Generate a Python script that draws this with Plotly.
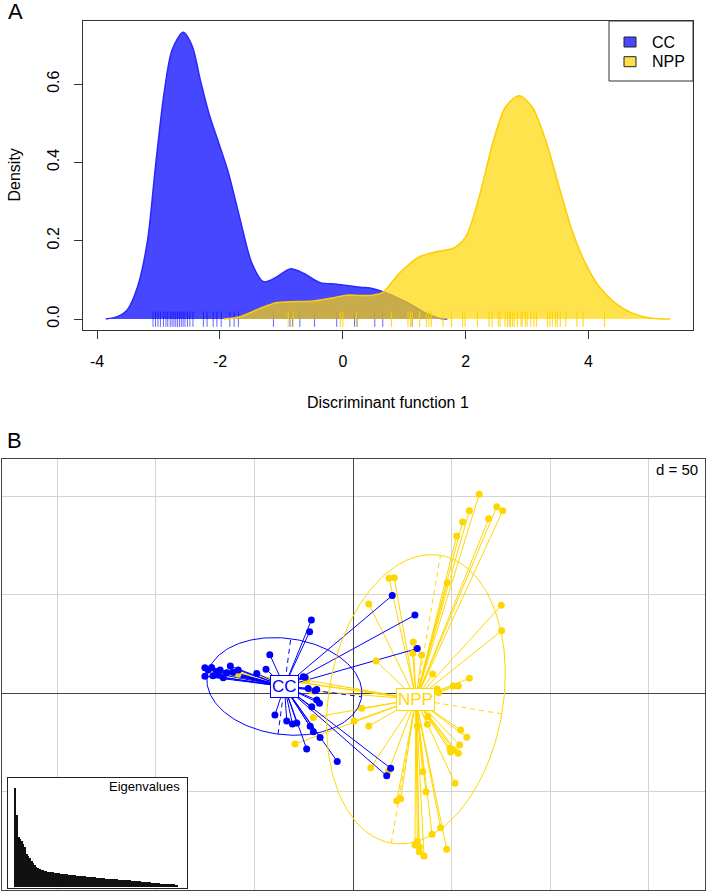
import numpy as np
import plotly.graph_objects as go

FONT = "Liberation Sans, Arial, Helvetica, sans-serif"

# ---------------- Panel A data ----------------
cc_dens_x = [-3.86, -3.67, -3.51, -3.34, -3.18, -3.05, -2.91, -2.78, -2.60, -2.45, -2.32, -2.18,
             -2.02, -1.86, -1.67, -1.48, -1.29, -1.07, -0.86, -0.64, -0.37, -0.10, 0.28, 0.44,
             0.65, 1.03, 1.36, 1.57, 1.70]
cc_dens_y = [0.0, 0.006, 0.023, 0.083, 0.20, 0.39, 0.577, 0.687, 0.732, 0.696, 0.61, 0.525,
             0.449, 0.372, 0.253, 0.142, 0.095, 0.108, 0.128, 0.117, 0.093, 0.089, 0.081, 0.079,
             0.070, 0.044, 0.014, 0.002, 0.0]
npp_dens_x = [-1.94, -1.67, -1.35, -1.07, -0.86, -0.48, -0.16, 0.06, 0.28, 0.49, 0.65, 0.92,
              1.25, 1.52, 1.79, 2.00, 2.22, 2.44, 2.65, 2.87, 3.08, 3.30, 3.52, 3.73, 3.95,
              4.17, 4.44, 4.71, 5.03, 5.33]
npp_dens_y = [0.0, 0.006, 0.027, 0.042, 0.044, 0.046, 0.054, 0.061, 0.060, 0.061, 0.068, 0.117,
              0.159, 0.172, 0.180, 0.210, 0.312, 0.449, 0.542, 0.570, 0.542, 0.457, 0.338, 0.227,
              0.142, 0.083, 0.040, 0.015, 0.002, 0.0]
cc_rug = [-3.09, -3.05, -3.01, -2.97, -2.92, -2.88, -2.85, -2.81, -2.78, -2.75, -2.72, -2.69,
          -2.66, -2.63, -2.60, -2.57, -2.53, -2.49, -2.44, -2.27, -2.21, -2.11, -2.05, -1.98,
          -1.84, -1.77, -1.70, -1.13, -0.86, -0.82, -0.70, -0.46, -0.10, 0.19, 0.23, 0.52,
          0.65, 1.13]
npp_rug = [-0.89, -0.81, -0.04, 0.00, 0.22, 0.79, 1.06, 1.10, 1.13, 1.25, 1.36, 1.40, 1.44,
           1.63, 1.77, 1.95, 1.99, 2.19, 2.38, 2.43, 2.53, 2.56, 2.64, 2.68, 2.71, 2.73, 2.76,
           2.79, 2.84, 2.90, 2.92, 2.97, 3.00, 3.06, 3.11, 3.15, 3.33, 3.37, 3.41, 3.46, 3.49,
           3.54, 3.63, 3.81, 3.91, 4.26]
a_xticks = [-4, -2, 0, 2, 4]
a_xticklabels = ["-4", "-2", "0", "2", "4"]
a_yticks = [0.0, 0.2, 0.4, 0.6]
a_yticklabels = ["0.0", "0.2", "0.4", "0.6"]
groups = ["CC", "NPP"]

# ---------------- Panel B data ----------------
cc_x = [-75.1, -75.1, -71.7, -71.0, -69.1, -67.4, -65.8, -64.0, -62.2, -58.2, -48.8, -44.1,
        -42.2, -21.1, -22.0, -18.4, -18.4, -20.9, -39.6, -33.6, -30.7, -21.7, -20.1, -16.7,
        -23.5, -8.0, 17.1, 19.1, 19.9, 31.4, 32.6, -24.3, -25.2, -19.3, -73.5, -68.5, -60.9,
        -22.7, -28.5, -17.0]
cc_y = [13.0, 8.6, 13.1, 8.9, 11.0, 11.8, 7.9, 10.4, 13.8, 11.8, 10.1, 12.2,
        19.6, 37.2, 31.2, 2.0, -3.4, -6.8, -11.0, -14.0, -15.6, -16.7, -19.5, -22.4,
        -28.2, -34.5, -41.8, -38.0, 49.6, 39.7, 22.7, 8.1, 8.4, 1.3, 11.8, 9.8, 10.8,
        2.5, -15.0, -5.0]
npp_x = [64.0, 72.9, 75.9, 59.0, 55.6, 68.8, 52.6, 18.3, 20.9, 8.0, 47.8, 75.2, 75.4, 30.6,
         30.3, 34.8, 11.7, 40.4, 59.0, 53.4, 50.9, 43.4, 42.4, 4.4, 0.5, 8.0, 38.0, 37.7,
         32.6, 54.6, 57.7, 54.1, 49.2, 51.2, 53.4, 49.5, 51.7, 9.0, 17.9, 35.3, 37.0, 24.1,
         22.2, 44.4, 40.1, 32.6, 33.6, 33.6, 36.0, 31.4, 47.5, -20.1, -29.4, -20.8, -61.4,
         -58.3, -23.5, 42.7]
npp_y = [100.9, 94.6, 92.6, 92.6, 86.9, 88.5, 79.8, 58.3, 58.6, 45.3, 56.1, 44.6, 31.7, 26.0,
         20.3, 19.4, 16.4, 9.8, 7.6, 3.7, 3.7, 0.3, 2.0, -7.6, -14.0, -16.6, -11.7, -15.7,
         -16.6, -18.6, -22.3, -26.2, -27.9, -28.8, -30.4, -29.8, -45.6, -37.7, -39.6, -39.8,
         -49.9, -53.5, -54.5, -68.1, -71.5, -75.3, -77.8, -80.3, -82.5, -76.9, -79.1, -12.2,
         -25.7, 1.2, 10.8, 9.8, 6.7, 2.2]
centers_x = [-34.8, 31.9]
centers_y = [3.5, -3.0]
ell_a = [39.5, 74.0]      # semi-major
ell_b = [24.4, 44.2]      # semi-minor
ell_angle = [-7.6, 80.3]  # degrees
eigenvalues = [297, 215, 150, 145, 138, 130, 120, 100, 92, 86,
               78, 71, 66, 61, 57, 54, 52, 50, 49, 47,
               46, 45, 44.5, 44, 43, 42.5, 42, 41, 40.5, 40,
               39, 38.5, 38, 37.5, 37, 36, 35.5, 35, 34.5, 34,
               33.5, 33, 32.5, 32, 31.5, 31, 30.5, 30, 29.5, 29,
               28.5, 28, 27.5, 27, 26.5, 26, 25.5, 25, 24.8, 24.5,
               24.2, 24, 23.5, 23, 22.5, 22, 21.5, 21, 20.8, 20.5,
               20.2, 20, 19.5, 19, 18.5, 18, 17.5, 17, 16.5, 16,
               15.5, 15, 14.5, 14, 13.5, 13, 12.5, 12, 11.5, 11,
               10.5, 10, 9.7, 9.4, 9, 8.7, 8.4, 8, 7.7, 7.4, 7]

BLUE = "#0000FF"
GOLD = "#FFD700"

W, H = 708, 894
def px(x):
    return x / W
def py(y):
    return 1 - y / H

fig = go.Figure()

# ---------------- Panel A traces ----------------
def rug(vals):
    xs, ys = [], []
    for v in vals:
        xs += [v, v, None]
        ys += [-0.020, 0.019, None]
    return xs, ys

fig.add_trace(go.Scatter(x=cc_dens_x, y=cc_dens_y, mode="lines", fill="tozeroy",
                         line=dict(color="rgb(40,40,255)", width=1.5, shape="spline", smoothing=0.8),
                         fillcolor="rgba(0,0,255,0.72)", xaxis="x", yaxis="y", showlegend=False,
                         hoverinfo="skip"))
rx, ry = rug(cc_rug)
fig.add_trace(go.Scatter(x=rx, y=ry, mode="lines", line=dict(color="rgba(0,0,255,0.6)", width=1),
                         xaxis="x", yaxis="y", showlegend=False, hoverinfo="skip"))
fig.add_trace(go.Scatter(x=npp_dens_x, y=npp_dens_y, mode="lines", fill="tozeroy",
                         line=dict(color="rgb(255,205,0)", width=1.5, shape="spline", smoothing=0.8),
                         fillcolor="rgba(255,215,0,0.7)", xaxis="x", yaxis="y", showlegend=False,
                         hoverinfo="skip"))
rx, ry = rug(npp_rug)
fig.add_trace(go.Scatter(x=rx, y=ry, mode="lines", line=dict(color="rgba(255,210,0,0.95)", width=1),
                         xaxis="x", yaxis="y", showlegend=False, hoverinfo="skip"))

# ---------------- Panel B traces ----------------
def star(xs, ys, cx, cy):
    lx, ly = [], []
    for a, b in zip(xs, ys):
        lx += [cx, a, None]
        ly += [cy, b, None]
    return lx, ly

# star lines first (NPP below, CC on top)
for gx, gy, ci, col in [(npp_x, npp_y, 1, GOLD), (cc_x, cc_y, 0, BLUE)]:
    lx, ly = star(gx, gy, centers_x[ci], centers_y[ci])
    fig.add_trace(go.Scatter(x=lx, y=ly, mode="lines", line=dict(color=col, width=1),
                             xaxis="x2", yaxis="y2", showlegend=False, hoverinfo="skip"))
# points: NPP then CC on top
for gx, gy, col in [(npp_x, npp_y, GOLD), (cc_x, cc_y, BLUE)]:
    fig.add_trace(go.Scatter(x=gx, y=gy, mode="markers", marker=dict(color=col, size=7),
                             xaxis="x2", yaxis="y2", showlegend=False, hoverinfo="skip"))

t = np.linspace(0, 2 * np.pi, 200)
for i, col in enumerate([BLUE, GOLD]):
    th = np.deg2rad(ell_angle[i])
    cx, cy, a, b = centers_x[i], centers_y[i], ell_a[i], ell_b[i]
    ex = cx + a * np.cos(th) * np.cos(t) - b * np.sin(th) * np.sin(t)
    ey = cy + a * np.sin(th) * np.cos(t) + b * np.cos(th) * np.sin(t)
    fig.add_trace(go.Scatter(x=ex, y=ey, mode="lines", line=dict(color=col, width=1),
                             xaxis="x2", yaxis="y2", showlegend=False, hoverinfo="skip"))
    axx = [cx - a * np.cos(th), cx + a * np.cos(th), None,
           cx + b * np.sin(th), cx - b * np.sin(th)]
    axy = [cy - a * np.sin(th), cy + a * np.sin(th), None,
           cy - b * np.cos(th), cy + b * np.cos(th)]
    fig.add_trace(go.Scatter(x=axx, y=axy, mode="lines", line=dict(color=col, width=1, dash="5px,4px"),
                             xaxis="x2", yaxis="y2", showlegend=False, hoverinfo="skip"))

# ---------------- Eigenvalue inset ----------------
n_eig = len(eigenvalues)
x3_range = [-3.64, n_eig + 5.7]
y3_range = [-3, 327]
# white background of the inset (a bar so it sits below the eigenvalue bars)
fig.add_trace(go.Bar(x=[(x3_range[0] + x3_range[1]) / 2], y=[y3_range[1] - y3_range[0]],
                     base=[y3_range[0]], width=[x3_range[1] - x3_range[0]],
                     marker=dict(color="white", line=dict(width=0)),
                     xaxis="x3", yaxis="y3", showlegend=False, hoverinfo="skip"))
fig.add_trace(go.Bar(x=list(range(1, n_eig + 1)), y=eigenvalues, width=0.78,
                     marker=dict(color="#111111", line=dict(width=0)),
                     xaxis="x3", yaxis="y3", showlegend=False, hoverinfo="skip"))

# ---------------- Layout ----------------
axis_font = dict(family=FONT, size=16, color="black")
fig.update_layout(
    width=W, height=H, autosize=False,
    margin=dict(l=0, r=0, t=0, b=0),
    paper_bgcolor="white", plot_bgcolor="white",
    font=dict(family=FONT, color="black"),
    barmode="overlay", bargap=0,
    xaxis=dict(domain=[px(83), px(693)], range=[-4.23, 5.70], tickvals=a_xticks,
               ticktext=a_xticklabels, ticks="outside", ticklen=8, tickcolor="#333",
               showline=True, mirror=True, linecolor="#333", linewidth=1, showgrid=False,
               zeroline=False, tickfont=axis_font, anchor="y", ticklabelstandoff=9),
    yaxis=dict(domain=[py(330), py(21)], range=[-0.028, 0.761], tickvals=a_yticks,
               ticktext=a_yticklabels, ticks="outside", ticklen=8, tickcolor="#333",
               showline=True, mirror=True, linecolor="#333", linewidth=1, showgrid=False,
               zeroline=False, tickfont=axis_font, tickangle=-90, anchor="x",
               ticklabelstandoff=9),
    xaxis2=dict(domain=[px(2), px(705)], range=[-178.0, 178.5], tick0=0, dtick=50,
                showgrid=True, gridcolor="#D3D3D3", gridwidth=1, zeroline=True,
                zerolinecolor="#444", zerolinewidth=1, showticklabels=False, ticks="",
                showline=True, mirror=True, linecolor="#444", linewidth=1, anchor="y2"),
    yaxis2=dict(domain=[py(890), py(459)], range=[-99.7, 118.8], tick0=0, dtick=50,
                showgrid=True, gridcolor="#D3D3D3", gridwidth=1, zeroline=True,
                zerolinecolor="#444", zerolinewidth=1, showticklabels=False, ticks="",
                showline=True, mirror=True, linecolor="#444", linewidth=1, anchor="x2"),
    xaxis3=dict(domain=[px(8.3), px(186.7)], range=x3_range, showgrid=False, zeroline=False,
                showticklabels=False, ticks="", showline=True, mirror=True, linecolor="#222",
                linewidth=1, anchor="y3"),
    yaxis3=dict(domain=[py(887.7), py(777.7)], range=y3_range, showgrid=False, zeroline=False,
                showticklabels=False, ticks="", showline=True, mirror=True, linecolor="#222",
                linewidth=1, anchor="x3"),
)

shapes = []
annotations = []
# legend box for panel A
shapes.append(dict(type="rect", xref="paper", yref="paper", x0=px(609), x1=px(693),
                   y0=py(81), y1=py(21), line=dict(color="#333", width=1), fillcolor="white",
                   layer="above"))
for i, (fc, yc) in enumerate([("rgb(72,72,255)", 42), ("rgb(255,222,77)", 61.7)]):
    shapes.append(dict(type="rect", xref="paper", yref="paper", x0=px(624), x1=px(636),
                       y0=py(yc + 5), y1=py(yc - 5), line=dict(color="#222", width=1),
                       fillcolor=fc, layer="above"))
    annotations.append(dict(text=groups[i], xref="paper", yref="paper", x=px(650), y=py(yc),
                            xanchor="left", yanchor="middle", showarrow=False,
                            font=dict(family=FONT, size=16, color="black")))

annotations += [
    dict(text="A", xref="paper", yref="paper", x=px(15.5), y=py(12), showarrow=False,
         xanchor="center", yanchor="middle", font=dict(family=FONT, size=22, color="black")),
    dict(text="B", xref="paper", yref="paper", x=px(14), y=py(440), showarrow=False,
         xanchor="center", yanchor="middle", font=dict(family=FONT, size=22, color="black")),
    dict(text="Density", xref="paper", yref="paper", x=px(14), y=py(175.5), showarrow=False,
         textangle=-90, xanchor="center", yanchor="middle",
         font=dict(family=FONT, size=16, color="black")),
    dict(text="Discriminant function 1", xref="paper", yref="paper", x=px(388), y=py(402),
         showarrow=False, xanchor="center", yanchor="middle",
         font=dict(family=FONT, size=16, color="black")),
    dict(text="d = 50", xref="paper", yref="paper", x=px(700), y=py(469.5), showarrow=False,
         xanchor="right", yanchor="middle", font=dict(family=FONT, size=15, color="black")),
    dict(text="Eigenvalues", xref="paper", yref="paper", x=px(182), y=py(786), showarrow=False,
         xanchor="right", yanchor="middle", font=dict(family=FONT, size=13, color="black")),
]
for i, col in enumerate([BLUE, GOLD]):
    annotations.append(dict(text=groups[i], x=centers_x[i], y=centers_y[i], xref="x2", yref="y2",
                            showarrow=False, xanchor="center", yanchor="middle",
                            bgcolor="white", bordercolor=col, borderwidth=1, borderpad=1,
                            font=dict(family=FONT, size=17, color=col)))

fig.update_layout(shapes=shapes, annotations=annotations)
fig.write_html("out.html", config={"displayModeBar": False},
               post_script="document.body.style.margin='0';document.body.style.overflow='hidden';")
